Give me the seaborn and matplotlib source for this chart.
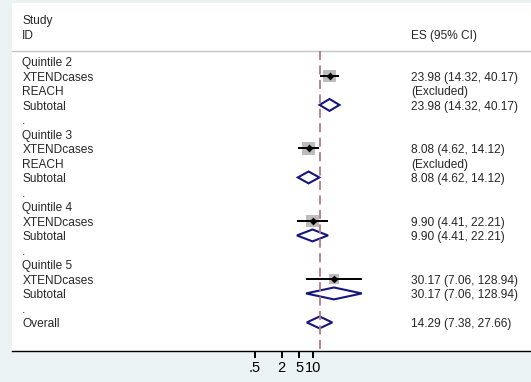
import numpy as np
import pandas as pd
import matplotlib
matplotlib.use("Agg")
import matplotlib.pyplot as plt
from matplotlib.patches import Polygon
from matplotlib.transforms import blended_transform_factory
import seaborn as sns

# ---- data ----
labels = ["Quintile 2", "XTENDcases", "REACH", "Subtotal", ".",
          "Quintile 3", "XTENDcases", "REACH", "Subtotal", ".",
          "Quintile 4", "XTENDcases", "Subtotal", ".",
          "Quintile 5", "XTENDcases", "Subtotal", ".",
          "Overall"]
es_text = ["", "23.98 (14.32, 40.17)", "(Excluded)", "23.98 (14.32, 40.17)", "",
           "", "8.08 (4.62, 14.12)", "(Excluded)", "8.08 (4.62, 14.12)", "",
           "", "9.90 (4.41, 22.21)", "9.90 (4.41, 22.21)", "",
           "", "30.17 (7.06, 128.94)", "30.17 (7.06, 128.94)", "",
           "14.29 (7.38, 27.66)"]

study_row = [1, 6, 11, 15]
study_es = [23.98, 8.08, 9.90, 30.17]
study_lo = [14.32, 4.62, 4.41, 7.06]
study_hi = [40.17, 14.12, 22.21, 128.94]
study_weight = [26.5, 29.5, 26.0, 18.0]

sub_row = [3, 8, 12, 16]
sub_es = [23.98, 8.08, 9.90, 30.17]
sub_lo = [14.32, 4.62, 4.41, 7.06]
sub_hi = [40.17, 14.12, 22.21, 128.94]

overall_row = 18
overall_es = 14.29
overall_lo = 7.38
overall_hi = 27.66

tick_vals = [0.5, 2, 5, 10]
tick_labels = [".5", "2", "5", "10"]

# ---- style ----
sns.set_theme(style="white")
plt.rcParams["font.family"] = ["Liberation Sans", "DejaVu Sans"]

fig = plt.figure(figsize=(5.31, 3.82), dpi=100)
fig.patch.set_facecolor("#eaf2f3")
W, H = 531, 382
ax = fig.add_axes([12 / W, (H - 351) / H, 1 - 12 / W, (351 - 3) / H])
ax.set_facecolor("white")

ax.set_xscale("log")
ax.set_xlim(10 ** -5.788, 10 ** 5.928)
ax.set_ylim(19.97, -4.03)

df = pd.DataFrame({"es": study_es, "row": study_row, "w": study_weight})

# weight squares
sns.scatterplot(data=df, x="es", y="row", size="w", sizes=(0, 300),
                size_norm=(0, 100), marker="s", color="#bcbcbc",
                linewidth=0, legend=False, ax=ax, zorder=2)
# CI lines
ax.hlines(study_row, study_lo, study_hi, color="black", lw=1.4, zorder=3)
# point estimates
sns.scatterplot(x=study_es, y=study_row, marker="D", color="black",
                s=16, linewidth=0, legend=False, ax=ax, zorder=4)

# diamonds
half = 0.41
navy = "#16167e"
for r, e, lo, hi in list(zip(sub_row, sub_es, sub_lo, sub_hi)) + [(overall_row, overall_es, overall_lo, overall_hi)]:
    poly = Polygon([(lo, r), (e, r - half), (hi, r), (e, r + half)],
                   closed=True, facecolor="white", edgecolor=navy, lw=1.5, zorder=5)
    ax.add_patch(poly)

# overall dashed line
ax.vlines(overall_es, -0.75, 19.97, color="#b07d80", lw=1.3,
          linestyles=(0, (5, 3)), zorder=6)

# header line
trans = blended_transform_factory(ax.transAxes, ax.transData)
ax.plot([0, 1], [-0.75, -0.75], transform=trans, color="#c4c4c4", lw=1, zorder=1,
        clip_on=False)

# text columns
fs = 8.6
dy = 0.13
tx_left = (22.3 - 12) / (W - 12)
tx_right = (411 - 12) / (W - 12)
ax.text(tx_left, -2.9 + dy, "Study", transform=trans, fontsize=fs, va="center", ha="left")
ax.text(tx_left, -1.9 + dy, "ID", transform=trans, fontsize=fs, va="center", ha="left")
ax.text(tx_right, -1.9 + dy, "ES (95% CI)", transform=trans, fontsize=fs, va="center", ha="left")
for i, (lab, et) in enumerate(zip(labels, es_text)):
    ax.text(tx_left, i + dy, lab, transform=trans, fontsize=fs, va="center", ha="left")
    if et:
        ax.text(tx_right, i + dy, et, transform=trans, fontsize=fs, va="center", ha="left")

# axes / ticks
ax.set_xticks(tick_vals)
ax.set_xticklabels(tick_labels, fontsize=10.5)
ax.xaxis.set_minor_locator(matplotlib.ticker.NullLocator())
ax.set_yticks([])
ax.tick_params(axis="x", direction="out", length=5, width=1.4, pad=2.5,
               bottom=True, colors="black")
for s in ["top", "right", "left"]:
    ax.spines[s].set_visible(False)
ax.spines["bottom"].set_color("black")
ax.spines["bottom"].set_linewidth(1.0)
ax.set_xlabel("")
ax.set_ylabel("")

fig.savefig("out.png", dpi=100, facecolor=fig.get_facecolor())
